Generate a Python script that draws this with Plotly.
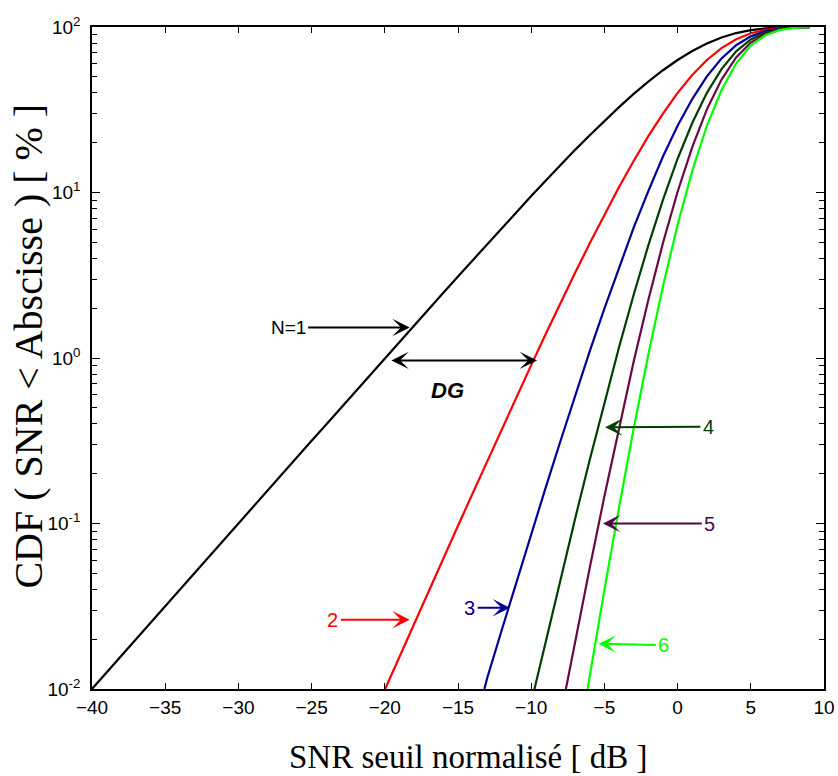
import math
import plotly.graph_objects as go

# Normalised threshold SNR (dB) and CDF values (%) for selection diversity, N = 1..6 branches
snr_n1 = list(range(-40, 10))
cdf_n1 = [0.0100, 0.0126, 0.0158, 0.0200, 0.0251, 0.0316, 0.0398, 0.0501, 0.0631, 0.0794,
          0.0999, 0.126, 0.158, 0.199, 0.251, 0.316, 0.397, 0.500, 0.629, 0.791,
          0.995, 1.25, 1.57, 1.98, 2.48, 3.11, 3.90, 4.89, 6.12, 7.64,
          9.52, 11.8, 14.7, 18.1, 22.2, 27.1, 32.8, 39.4, 46.8, 54.8,
          63.2, 71.6, 79.5, 86.4, 91.9, 95.8, 98.1, 99.3, 99.8, 99.97]

snr_n2 = list(range(-20, 10))
cdf_n2 = [0.0099, 0.0157, 0.0247, 0.0390, 0.0616, 0.0969, 0.152, 0.239, 0.374, 0.583,
          0.906, 1.40, 2.15, 3.27, 4.93, 7.35, 10.8, 15.5, 21.9, 30.0,
          40.0, 51.3, 63.2, 74.6, 84.4, 91.7, 96.3, 98.7, 99.6, 99.9]

snr_n3 = [-13.2] + list(range(-13, 10))
cdf_n3 = [0.0100, 0.0117, 0.0229, 0.0445, 0.0862, 0.166, 0.315, 0.592, 1.10, 1.99,
          3.54, 6.13, 10.2, 16.5, 25.3, 36.7, 50.3, 64.5, 77.6, 87.8,
          94.5, 98.0, 99.5, 99.9]

snr_n4 = [-9.8] + list(range(-9, 10))
cdf_n4 = [0.0098, 0.0196, 0.0462, 0.107, 0.243, 0.540, 1.16, 2.41, 4.79, 9.02,
          16.0, 26.3, 40.0, 55.7, 71.3, 84.1, 92.7, 97.3, 99.3, 99.86]

snr_n5 = [-7.63] + list(range(-7, 10))
cdf_n5 = [0.0100, 0.0194, 0.054, 0.146, 0.382, 0.952, 2.24, 4.95, 10.1, 18.8,
          31.8, 48.1, 65.5, 80.6, 91.0, 96.7, 99.1, 99.8]

snr_n6 = [-6.15] + list(range(-6, 10))
cdf_n6 = [0.0100, 0.012, 0.0397, 0.125, 0.375, 1.05, 2.71, 6.39, 13.5, 25.3,
          41.6, 60.2, 77.2, 89.3, 96.0, 98.9, 99.8]

series = [
    (snr_n1, cdf_n1, "#000000", "N=1"),
    (snr_n2, cdf_n2, "#ff0000", "N=2"),
    (snr_n3, cdf_n3, "#000099", "N=3"),
    (snr_n4, cdf_n4, "#003f00", "N=4"),
    (snr_n5, cdf_n5, "#6a0a45", "N=5"),
    (snr_n6, cdf_n6, "#00ff00", "N=6"),
]

x_ticks = [-40, -35, -30, -25, -20, -15, -10, -5, 0, 5, 10]
y_ticks = [0.01, 0.1, 1, 10, 100]
y_tick_text = ["10<sup>-2</sup>", "10<sup>-1</sup>", "10<sup>0</sup>", "10<sup>1</sup>", "10<sup>2</sup>"]

fig = go.Figure()
for xs, ys, color, name in series:
    fig.add_trace(go.Scatter(x=xs, y=ys, mode="lines", name=name,
                             line=dict(color=color, width=2.2)))

sans = "Liberation Sans, Arial, sans-serif"
serif = "Liberation Serif, Times New Roman, serif"

L = math.log10
annotations = []

def pointer(text, x_text, y_text, x_head, y_head, color, size=20):
    """Label placed at (x_text, y_text) with an arrow running to the curve."""
    annotations.append(dict(
        x=x_head, y=L(y_head), ax=x_text, ay=L(y_text),
        xref="x", yref="y", axref="x", ayref="y",
        text=text, showarrow=True, arrowhead=3, arrowsize=1.45,
        arrowwidth=2, arrowcolor=color, borderpad=2,
        font=dict(family=sans, size=size, color=color)))

# curve labels with their arrows
pointer("N=1", -26.6, 1.53, -18.3, 1.53, "#000000", size=19)
pointer("2", -23.55, 0.0262, -18.3, 0.0262, "#ff0000")
pointer("3", -14.2, 0.031, -11.45, 0.031, "#000099")
pointer("4", 2.1, 0.385, -4.95, 0.381, "#003f00")
pointer("5", 2.2, 0.0999, -5.1, 0.0999, "#4a0a45")
pointer("6", -0.95, 0.0184, -5.4, 0.0188, "#00ff00")

# diversity gain between the N=1 and N=2 curves
annotations.append(dict(
    x=-9.6, y=L(0.967), ax=-19.65, ay=L(0.967),
    xref="x", yref="y", axref="x", ayref="y",
    text="", showarrow=True, arrowhead=3, startarrowhead=3,
    arrowside="end+start", arrowsize=1.45, startarrowsize=1.45,
    arrowwidth=2, arrowcolor="#000000"))
annotations.append(dict(
    x=-15.7, y=L(0.64), xref="x", yref="y", text="<b><i>DG</i></b>",
    showarrow=False, xanchor="center", yanchor="middle",
    font=dict(family=sans, size=22, color="#000000")))

# axis titles
annotations.append(dict(
    x=0.513, y=-0.102, xref="paper", yref="paper", showarrow=False,
    text="SNR seuil normalisé [ dB ]", xanchor="center", yanchor="middle",
    font=dict(family=serif, size=33, color="#000000")))
annotations.append(dict(
    x=-0.0867, y=0.518, xref="paper", yref="paper", showarrow=False,
    text="CDF ( SNR < Abscisse ) [ % ]", textangle=-90,
    xanchor="center", yanchor="middle",
    font=dict(family=serif, size=40, color="#000000")))

fig.update_layout(
    width=838, height=776,
    margin=dict(l=92, r=14, t=27, b=87, autoexpand=False),
    paper_bgcolor="#ffffff", plot_bgcolor="#ffffff",
    showlegend=False,
    annotations=annotations,
    font=dict(family=sans, size=19, color="#000000"),
)

fig.update_xaxes(
    range=[-40, 10], tickvals=x_ticks, ticks="inside", ticklen=6, tickwidth=1,
    tickcolor="#000000", showline=True, linecolor="#000000", linewidth=1.5,
    mirror="allticks", showgrid=False, zeroline=False,
    tickfont=dict(family=sans, size=19, color="#000000"), automargin=False,
)
fig.update_yaxes(
    type="log", range=[-2, 2], tickvals=y_ticks, ticktext=y_tick_text,
    ticks="inside", ticklen=8, tickwidth=1, tickcolor="#000000",
    ticklabelstandoff=6,
    minor=dict(ticks="inside", ticklen=5, tickwidth=1, tickcolor="#000000",
               dtick="D1", showgrid=False),
    showline=True, linecolor="#000000", linewidth=1.5,
    mirror="allticks", showgrid=False, zeroline=False,
    tickfont=dict(family=sans, size=19, color="#000000"), automargin=False,
)

fig.write_html("out.html")
